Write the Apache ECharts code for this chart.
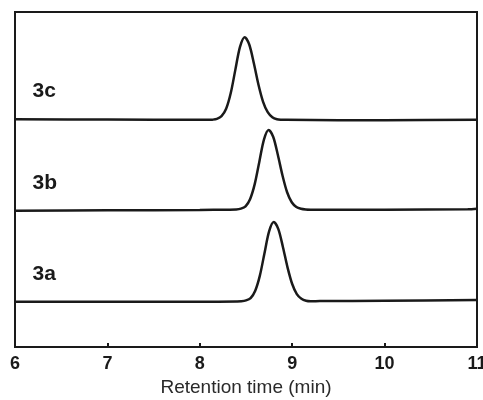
<!DOCTYPE html>
<html>
<head>
<meta charset="UTF-8">
<title>index.html</title>
<script src="https://cdn.jsdelivr.net/npm/echarts@6/dist/echarts.min.js"></script>
<style>
body { margin: 0; background: #fff; }
#main { width: 483px; height: 400px; }
</style>
</head>
<body>
<div id="main"></div>
<script>
  // retention time (min) and detector signal (offset traces, arbitrary units)
  var time3a = [6.0, 7.0, 8.0, 8.4, 8.45, 8.5, 8.55, 8.6, 8.65, 8.7, 8.75, 8.8, 8.85, 8.9, 8.95, 9.0, 9.05, 9.1, 9.15, 9.2, 9.3, 10.0, 11.0];
  var sig3a = [13.5, 13.5, 13.5, 13.6, 13.65, 13.9, 14.6, 16.8, 21.3, 28.0, 34.5, 37.3, 35.2, 29.8, 23.7, 18.8, 15.8, 14.4, 13.8, 13.65, 13.7, 13.8, 14.0];

  var time3b = [6.0, 7.0, 8.0, 8.3, 8.395, 8.445, 8.495, 8.545, 8.595, 8.645, 8.695, 8.745, 8.795, 8.845, 8.895, 8.945, 8.995, 9.045, 9.095, 9.145, 9.2, 10.0, 10.9, 11.0];
  var sig3b = [40.7, 40.8, 40.9, 41.0, 41.05, 41.3, 42.0, 44.2, 48.7, 55.4, 62.0, 64.8, 62.7, 57.3, 51.2, 46.2, 43.2, 41.8, 41.25, 41.05, 41.0, 41.0, 41.1, 41.3];

  var time3c = [6.0, 7.0, 8.0, 8.1, 8.135, 8.185, 8.235, 8.285, 8.335, 8.385, 8.435, 8.485, 8.535, 8.585, 8.635, 8.685, 8.735, 8.785, 8.835, 8.885, 8.935, 9.5, 10.0, 11.0];
  var sig3c = [68.0, 67.9, 67.8, 67.8, 67.85, 68.1, 68.9, 71.1, 75.8, 82.8, 89.6, 92.5, 90.3, 84.7, 78.3, 73.2, 70.1, 68.6, 68.0, 67.85, 67.8, 67.7, 67.7, 67.8];

  var names = ['3a', '3b', '3c'];
  var xTicks = [6, 7, 8, 9, 10, 11];

  function pairs(t, s) {
    var out = [];
    for (var i = 0; i < t.length; i++) out.push([t[i], s[i]]);
    return out;
  }

  // where the sample names sit (time, signal)
  var labelAt = [[6.19, 21.6], [6.19, 48.8], [6.19, 76.3]];

  function trace(name, data, pos) {
    return {
      name: name,
      type: 'line',
      data: data,
      smooth: 0.3,
      showSymbol: false,
      silent: true,
      lineStyle: { color: '#1a1a1a', width: 2.5 },
      markPoint: {
        symbol: 'circle',
        symbolSize: 0,
        silent: true,
        data: [{ coord: pos, value: name }],
        label: {
          show: true,
          position: 'inside',
          align: 'left',
          formatter: name,
          color: '#1a1a1a',
          fontFamily: 'Liberation Sans',
          fontWeight: 'bold',
          fontSize: 21
        }
      }
    };
  }

  var myChart = echarts.init(document.getElementById('main'));
  var option = {
    animation: false,
    grid: {
      left: 15, right: 6, top: 12, bottom: 53,
      outerBoundsMode: 'none',
      containLabel: false,
      show: true, borderColor: '#1a1a1a', borderWidth: 2
    },
    xAxis: {
      type: 'value',
      min: 6, max: 11, interval: 1,
      name: 'Retention time (min)',
      nameLocation: 'middle',
      nameGap: 31,
      nameTextStyle: { fontFamily: 'Liberation Sans', fontSize: 19, color: '#2a2a2a' },
      axisLine: { show: true, lineStyle: { color: '#1a1a1a', width: 2 } },
      axisTick: { show: true, inside: true, length: 4, lineStyle: { color: '#1a1a1a', width: 2 } },
      axisLabel: {
        margin: 8,
        fontFamily: 'Liberation Sans', fontWeight: 'bold', fontSize: 18, color: '#1a1a1a',
        formatter: function (v) { return xTicks.indexOf(v) >= 0 ? String(v) : ''; }
      },
      splitLine: { show: false }
    },
    yAxis: {
      type: 'value',
      min: 0, max: 100,
      show: false
    },
    series: [
      trace(names[0], pairs(time3a, sig3a), labelAt[0]),
      trace(names[1], pairs(time3b, sig3b), labelAt[1]),
      trace(names[2], pairs(time3c, sig3c), labelAt[2])
    ]
  };
  myChart.setOption(option);
</script>
</body>
</html>
